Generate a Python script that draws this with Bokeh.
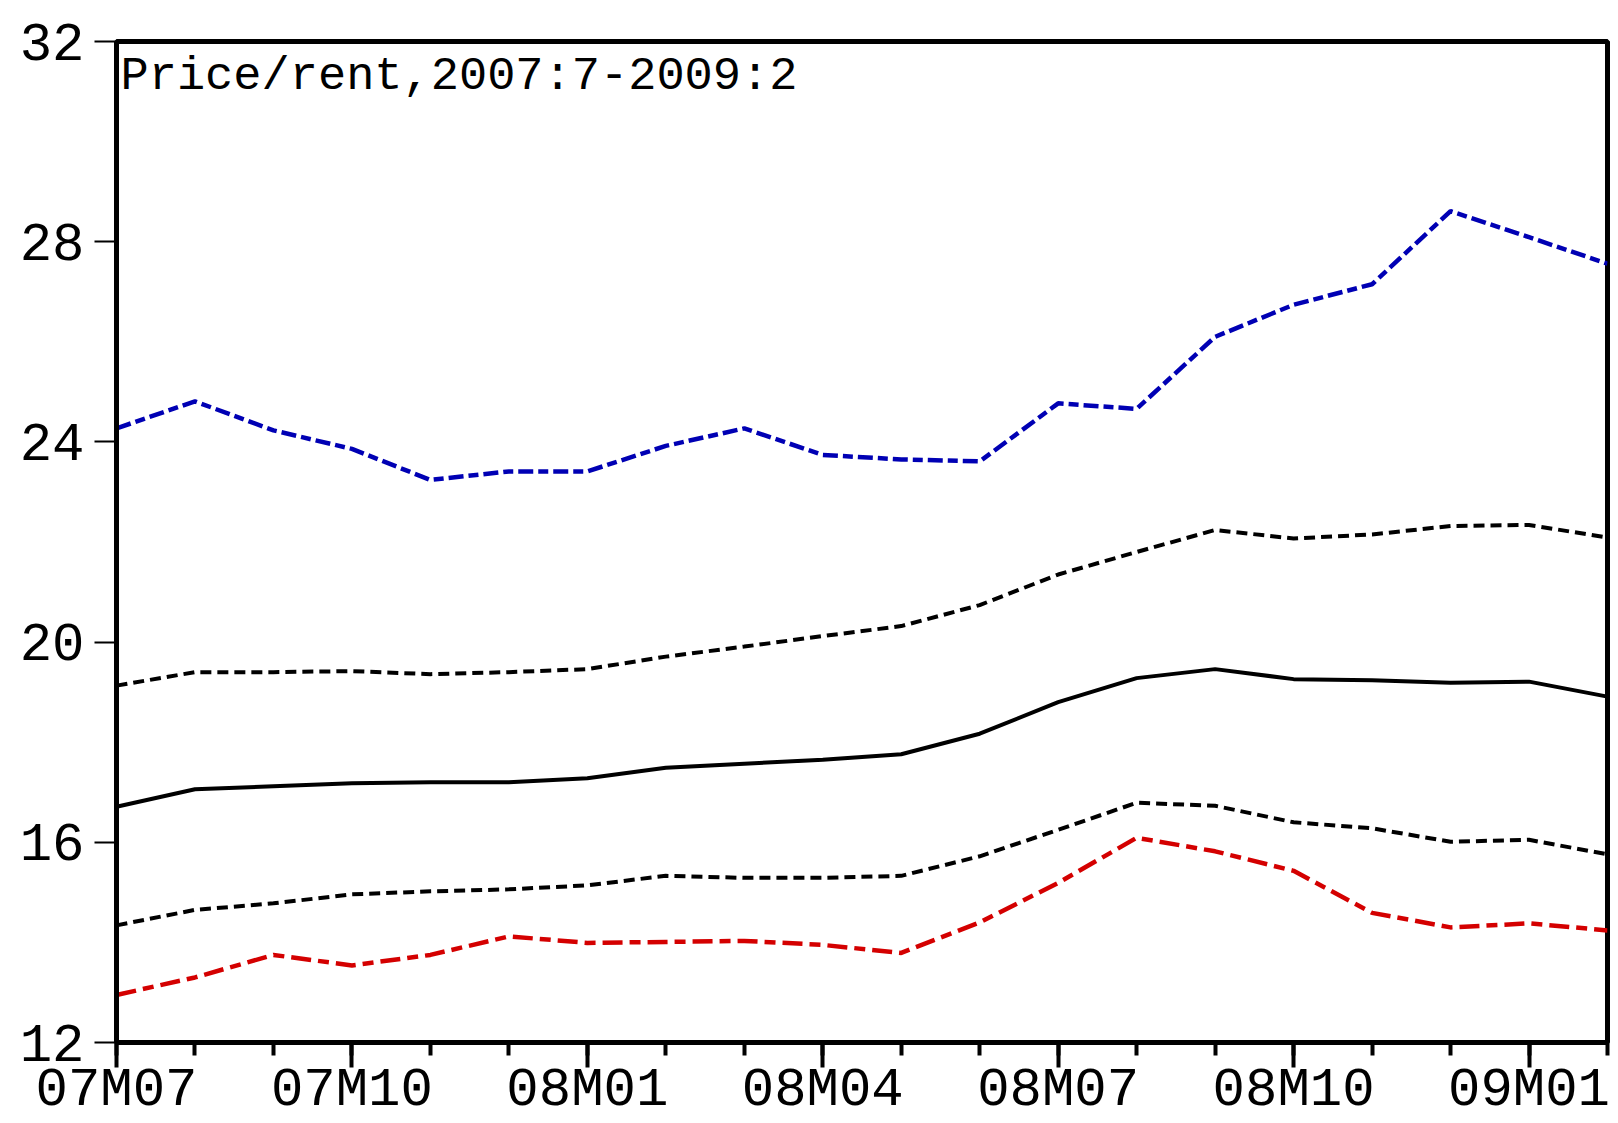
from bokeh.plotting import figure
from bokeh.models import FixedTicker, Label, ColumnDataSource
from bokeh.embed import file_html
from bokeh.resources import INLINE

# Monthly price/rent ratio, 2007:7 - 2009:2
months = ["07M07", "07M08", "07M09", "07M10", "07M11", "07M12",
          "08M01", "08M02", "08M03", "08M04", "08M05", "08M06",
          "08M07", "08M08", "08M09", "08M10", "08M11", "08M12",
          "09M01", "09M02"]

upper_outer = [24.27, 24.81, 24.23, 23.86, 23.24, 23.41, 23.41, 23.92, 24.27, 23.74,
               23.65, 23.61, 24.77, 24.66, 26.10, 26.74, 27.15, 28.61, 28.09, 27.56]
upper_band = [19.13, 19.40, 19.40, 19.42, 19.36, 19.40, 19.46, 19.71, 19.91, 20.12,
              20.32, 20.74, 21.35, 21.80, 22.24, 22.07, 22.15, 22.32, 22.34, 22.09]
median = [16.71, 17.06, 17.12, 17.18, 17.20, 17.20, 17.28, 17.49, 17.57, 17.65,
          17.76, 18.17, 18.80, 19.28, 19.46, 19.26, 19.24, 19.19, 19.21, 18.91]
lower_band = [14.34, 14.65, 14.78, 14.96, 15.02, 15.06, 15.14, 15.33, 15.29, 15.29,
              15.33, 15.72, 16.25, 16.79, 16.73, 16.40, 16.28, 16.01, 16.05, 15.76]
lower_outer = [12.95, 13.30, 13.75, 13.54, 13.75, 14.12, 13.99, 14.01, 14.03, 13.95,
               13.79, 14.40, 15.19, 16.09, 15.82, 15.43, 14.59, 14.30, 14.38, 14.24]

y_ticks = [12, 16, 20, 24, 28, 32]
title_text = "Price/rent,2007:7-2009:2"

idx = list(range(len(months)))
src = ColumnDataSource(dict(x=idx, a=upper_outer, b=upper_band, m=median,
                            c=lower_band, d=lower_outer))

FONT = "Liberation Mono"

p = figure(width=1618, height=1123, output_backend="svg", toolbar_location=None,
           x_range=(0, len(months) - 1), y_range=(min(y_ticks), max(y_ticks)),
           min_border_left=116, min_border_right=11, min_border_top=41,
           min_border_bottom=78, background_fill_color="white",
           border_fill_color="white")

p.grid.visible = False
p.outline_line_color = "black"
p.outline_line_width = 5

# x axis: a tick every month, labels every quarter
xa = p.xaxis[0]
xa.ticker = FixedTicker(ticks=idx[::3], minor_ticks=idx)
xa.major_label_overrides = {i: months[i] for i in idx[::3]}
xa.axis_line_width = 5
xa.major_tick_line_width = 4
xa.minor_tick_line_width = 4
xa.major_tick_in = 0
xa.major_tick_out = 25
xa.minor_tick_in = 0
xa.minor_tick_out = 13
xa.major_label_standoff = -8
xa.major_label_text_font = FONT
xa.major_label_text_font_size = "54px"
xa.major_label_text_color = "black"

ya = p.yaxis[0]
ya.ticker = FixedTicker(ticks=y_ticks, minor_ticks=[])
ya.axis_line_width = 5
ya.major_tick_line_width = 2
ya.major_tick_in = 0
ya.major_tick_out = 22
ya.major_label_standoff = 10
ya.major_label_text_font = FONT
ya.major_label_text_font_size = "54px"
ya.major_label_text_color = "black"

p.line("x", "a", source=src, line_color="#0000B4", line_width=4.5, line_dash="15 5 10 5")
p.line("x", "b", source=src, line_color="black", line_width=4, line_dash="11 6")
p.line("x", "m", source=src, line_color="black", line_width=4)
p.line("x", "c", source=src, line_color="black", line_width=4, line_dash="11 6")
p.line("x", "d", source=src, line_color="#D40000", line_width=4.5, line_dash="20 7 11 7")

p.add_layout(Label(x=0, y=max(y_ticks), x_offset=4, y_offset=-8, text=title_text,
                   text_font=FONT, text_font_size="47px", text_baseline="top",
                   text_color="black"))

open("out.html", "w").write(file_html(p, INLINE))
